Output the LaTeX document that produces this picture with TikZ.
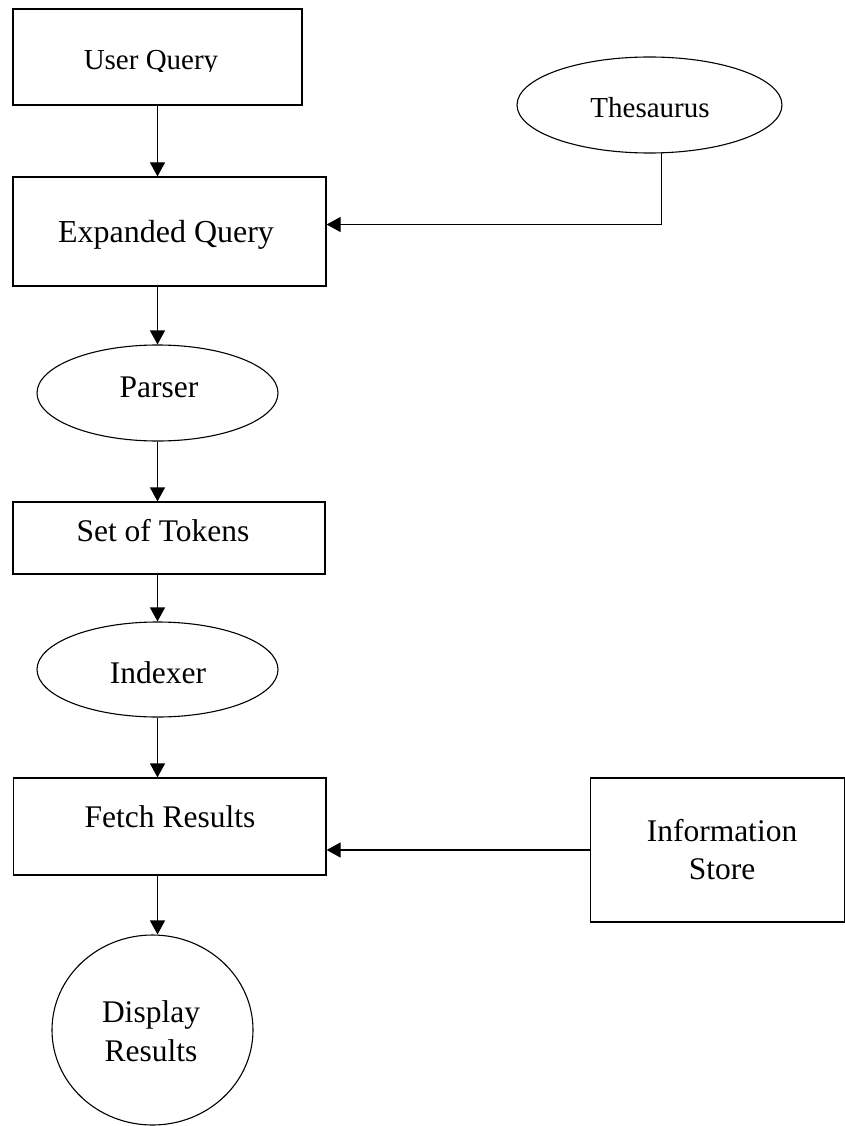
\documentclass[tikz,border=0pt]{standalone}
\usepackage{fontspec}
\setmainfont{Liberation Serif}
\usetikzlibrary{shapes.geometric,arrows.meta}
\tikzset{
  box/.style={draw, rectangle, line width=1.2pt, inner sep=0pt},
  oval/.style={draw, ellipse, line width=1.1pt, inner sep=0pt},
  lbl/.style={anchor=base, inner sep=0pt, font=\fontsize{31.5}{38}\selectfont},
  lblsmall/.style={anchor=base, inner sep=0pt, font=\fontsize{29}{35}\selectfont},
  arr/.style={line width=1.2pt, -{Triangle[length=14pt,width=15pt]}}
}
\begin{document}
\begin{tikzpicture}[x=1pt,y=-1pt]
\useasboundingbox (0,0) rectangle (845,1126);

% shapes
\node[box, minimum width=289pt, minimum height=96pt] (uq) at (157.5,57) {};
\node[box, minimum width=313pt, minimum height=109pt] (eq) at (169.5,231.5) {};
\node[oval, minimum width=265pt, minimum height=96pt] (thes) at (649.5,105) {};
\node[oval, minimum width=241pt, minimum height=96pt] (par) at (157.5,393) {};
\node[box, minimum width=312pt, minimum height=72pt] (sot) at (169,538) {};
\node[oval, minimum width=241pt, minimum height=95pt] (ind) at (157.5,669.5) {};
\node[box, minimum width=312.5pt, minimum height=97pt] (fr) at (169.75,826.5) {};
\node[box, minimum width=253.8pt, minimum height=144pt] (info) at (717.5,850) {};
\node[oval, minimum width=201pt, minimum height=190pt] (disp) at (152.5,1030) {};

% labels
\begin{scope}
  \clip (0,0) rectangle (845,72);
  \node[lblsmall] (tuq) at (151,70) {User Query};
\end{scope}
\node[lbl, font=\fontsize{32}{38}\selectfont] (teq) at (166,242) {Expanded Query};
\node[lblsmall] (tthes) at (650,118) {Thesaurus};
\node[lbl] (tpar) at (159,397) {Parser};
\node[lbl] (tsot) at (163,541) {Set of Tokens};
\node[lbl] (tind) at (158,683) {Indexer};
\node[lbl] (tfr) at (170,827.5) {Fetch Results};
\node[lbl] (tinfo1) at (722,841.6) {Information};
\node[lbl] (tinfo2) at (722,879.5) {Store};
\node[lbl] (tdisp1) at (151,1022) {Display};
\node[lbl] (tdisp2) at (151,1061) {Results};

% connectors
\draw[arr] (uq.south) -- (uq.south |- eq.north);
\draw[arr] (eq.south -| uq.south) -- (par.north);
\draw[arr] (par.south) -- (par.south |- sot.north);
\draw[arr] (sot.south -| par.south) -- (ind.north);
\draw[arr] (ind.south) -- (ind.south |- fr.north);
\draw[arr] (fr.south -| ind.south) -- (ind.south |- disp.north);
\draw[arr] (thes.-76) |- ([yshift=7pt]eq.east);
\draw[arr] (info.west) -- (info.west -| fr.east);
\end{tikzpicture}
\end{document}
